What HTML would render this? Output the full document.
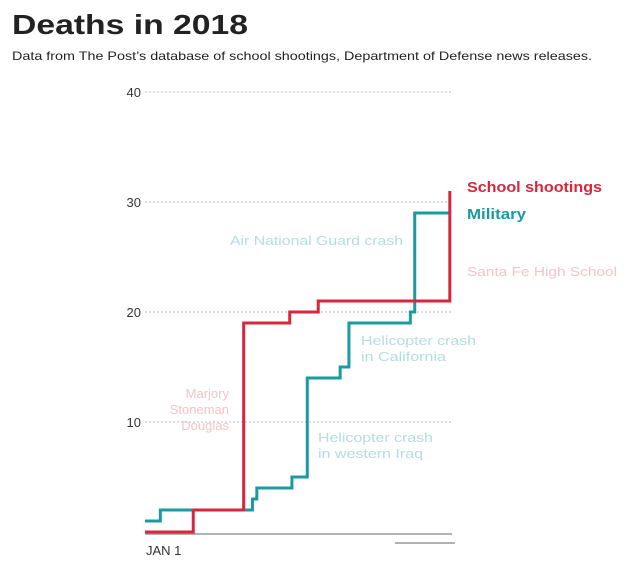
<!DOCTYPE html>
<html><head><meta charset="utf-8"><style>
body{margin:0;background:#fff;width:640px;height:573px;overflow:hidden;font-family:"Liberation Sans",sans-serif}
</style></head><body>
<svg width="640" height="573">
<text x="12" y="34" font-size="28" font-weight="bold" fill="#222" textLength="236" lengthAdjust="spacingAndGlyphs">Deaths in 2018</text>
<text x="12" y="60" font-size="12" fill="#222" textLength="580" lengthAdjust="spacingAndGlyphs">Data from The Post’s database of school shootings, Department of Defense news releases.</text>
<g id="grid"></g>
<line x1="145" y1="534" x2="452" y2="534" stroke="#999" stroke-width="1.5"/>
<line x1="395" y1="543" x2="455" y2="543" stroke="#999" stroke-width="1.5"/>
<text x="146" y="555" font-size="13" fill="#333">JAN 1</text>
<g id="series"></g>
<text x="230" y="245" font-size="13" fill="#b4dde0" textLength="173" lengthAdjust="spacingAndGlyphs">Air National Guard crash</text>
<text x="467" y="276" font-size="13" fill="#f2c4c8" textLength="150" lengthAdjust="spacingAndGlyphs">Santa Fe High School</text>
<text font-size="13" fill="#b4dde0"><tspan x="361" y="345" textLength="115" lengthAdjust="spacingAndGlyphs">Helicopter crash</tspan><tspan x="361" y="361" textLength="85" lengthAdjust="spacingAndGlyphs">in California</tspan></text>
<text font-size="13" fill="#f2c4c8" text-anchor="end"><tspan x="229" y="398">Marjory</tspan><tspan x="229" y="414">Stoneman</tspan><tspan x="229" y="430">Douglas</tspan></text>
<text font-size="13" fill="#b4dde0"><tspan x="318" y="442" textLength="115" lengthAdjust="spacingAndGlyphs">Helicopter crash</tspan><tspan x="318" y="458" textLength="105" lengthAdjust="spacingAndGlyphs">in western Iraq</tspan></text>
<text x="467" y="192" font-size="15" font-weight="bold" fill="#d7263d" textLength="135" lengthAdjust="spacingAndGlyphs">School shootings</text>
<text x="467" y="219" font-size="15" font-weight="bold" fill="#1a9ba1" textLength="59" lengthAdjust="spacingAndGlyphs">Military</text>
</svg>
<script>
const yTicks=[10,20,30,40];
const redDays=[0,22,45,66,79,139];
const redVals=[0,2,19,20,21,31];
const tealDays=[0,7,49,51,67,74,89,93,121,123];
const tealVals=[1,2,3,4,5,14,15,19,20,29];
const endDay=139;
const NS="http://www.w3.org/2000/svg";
const x=d=>145+d*(307/140);
const y=v=>532-v*11;
const grid=document.getElementById('grid');
yTicks.forEach(t=>{
  const l=document.createElementNS(NS,'line');
  l.setAttribute('x1',145);l.setAttribute('x2',452);l.setAttribute('y1',y(t));l.setAttribute('y2',y(t));
  l.setAttribute('stroke','#bbb');l.setAttribute('stroke-dasharray','2,2');
  
  
  grid.appendChild(l);
  const tx=document.createElementNS(NS,'text');
  tx.setAttribute('x',141);tx.setAttribute('y',y(t)+5);tx.setAttribute('text-anchor','end');
  tx.setAttribute('font-size','13');tx.setAttribute('fill','#333');tx.textContent=t;
  
  
  grid.appendChild(tx);
});
function step(days,vals){
  let d='M'+x(days[0])+','+y(vals[0]);
  for(let i=1;i<days.length;i++){d+=' H'+x(days[i])+' V'+y(vals[i]);}
  d+=' H'+x(endDay);
  return d;
}
const s=document.getElementById('series');
const pt=document.createElementNS(NS,'path');
pt.setAttribute('d',step(tealDays,tealVals));pt.setAttribute('fill','none');pt.setAttribute('stroke','#1a9ba1');pt.setAttribute('stroke-width','3');


s.appendChild(pt);
const pr=document.createElementNS(NS,'path');
pr.setAttribute('d',step(redDays,redVals));pr.setAttribute('fill','none');pr.setAttribute('stroke','#d7263d');pr.setAttribute('stroke-width','3');


s.appendChild(pr);
</script>
</body></html>
